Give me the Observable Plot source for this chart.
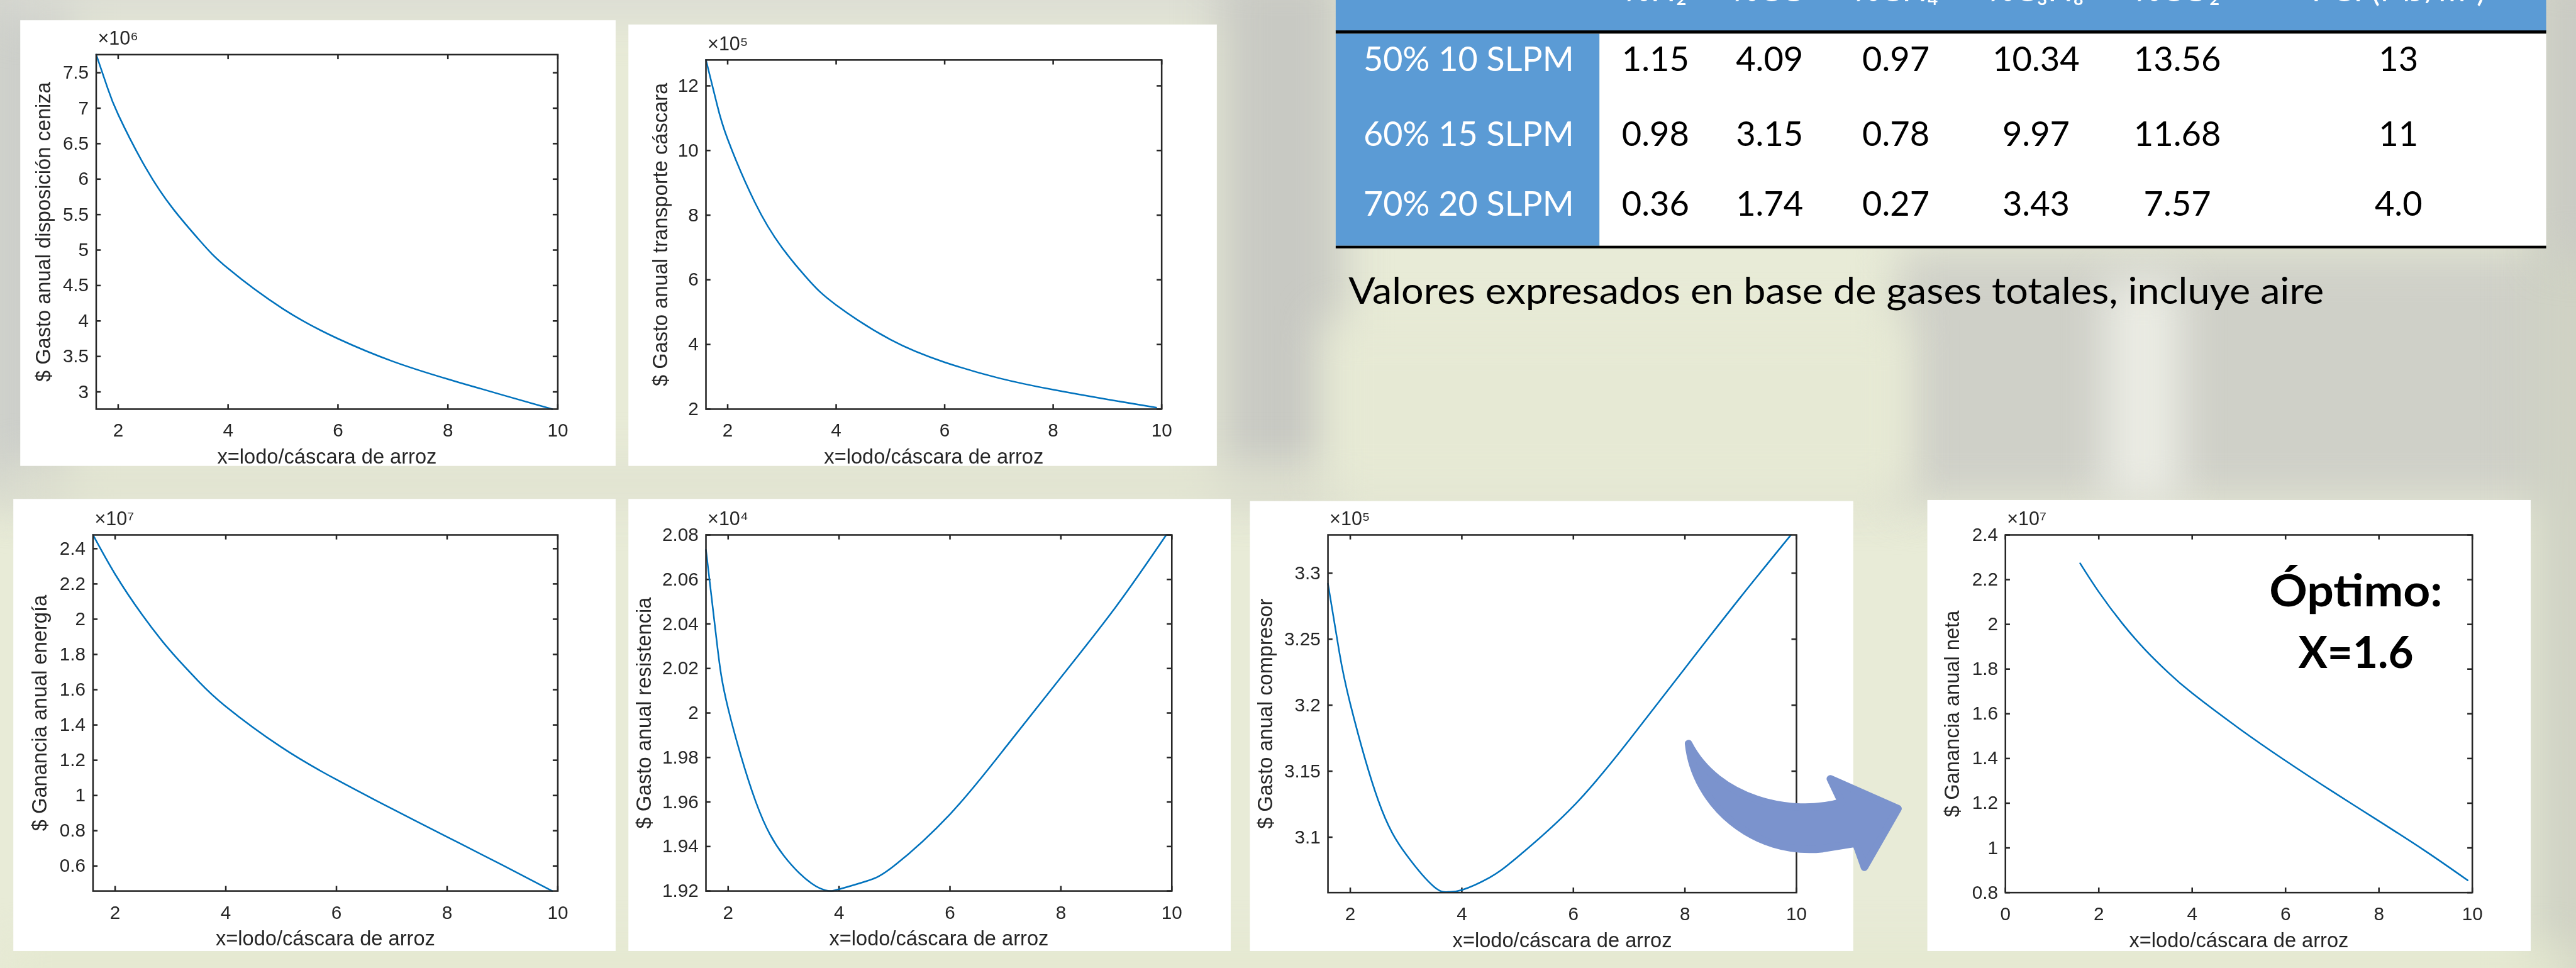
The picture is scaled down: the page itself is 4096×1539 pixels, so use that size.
<!DOCTYPE html>
<html><head><meta charset="utf-8">
<script src="https://cdn.jsdelivr.net/npm/d3@7"></script>
<script src="https://cdn.jsdelivr.net/npm/@observablehq/plot@0.6"></script>
<style>
html,body{margin:0;padding:0;width:4096px;height:1539px;overflow:hidden;background:#e8ebd7;}
#root{position:absolute;left:0;top:0;width:4833px;height:1816px;transform-origin:0 0;overflow:hidden;background:#e8ebd7;}
.blob{position:absolute;filter:blur(40px);}
.panel{position:absolute;}
</style></head><body><div id="root"></div>
<script>
// ---------------- DATA ----------------
const xTitle = "x=lodo/cáscara de arroz";
const xTicks = [2, 4, 6, 8, 10];
const xTicksNeta = [0, 2, 4, 6, 8, 10];

// Gasto anual disposición ceniza (x10^6)
const cenizaX = [1.6, 1.8, 2, 2.5, 3, 3.5, 4, 5, 6, 7, 8, 9, 9.9];
const cenizaY = [7.755, 7.30, 6.91, 6.16, 5.58, 5.12, 4.74, 4.17, 3.75, 3.43, 3.18, 2.955, 2.757];
const cenizaTicks = [3, 3.5, 4, 4.5, 5, 5.5, 6, 6.5, 7, 7.5];

// Gasto anual transporte cáscara (x10^5)
const cascaraX = [1.6, 1.8, 2, 2.5, 3, 3.5, 4, 5, 6, 7, 8, 9, 9.9];
const cascaraY = [12.8, 11.45, 10.35, 8.4, 7.0, 5.98, 5.22, 4.15, 3.45, 2.96, 2.6, 2.3, 2.05];
const cascaraTicks = [2, 4, 6, 8, 10, 12];

// Ganancia anual energía (x10^7)
const energiaX = [1.6, 2, 2.5, 3, 3.5, 4, 5, 6, 7, 8, 9, 9.9];
const energiaY = [2.478, 2.255, 2.02, 1.82, 1.65, 1.505, 1.275, 1.09, 0.925, 0.765, 0.605, 0.458];
const energiaTicks = [0.6, 0.8, 1, 1.2, 1.4, 1.6, 1.8, 2, 2.2, 2.4];

// Gasto anual resistencia (x10^4)
const resistX = [1.6, 1.8, 2, 2.5, 3, 3.5, 3.8, 4, 4.5, 5, 6, 7, 8, 9, 9.9];
const resistY = [2.0733, 2.031, 2.002, 1.960, 1.936, 1.9235, 1.9201, 1.9208, 1.9245, 1.9315, 1.9545, 1.9845, 2.016, 2.048, 2.08];
const resistTicks = [1.92, 1.94, 1.96, 1.98, 2, 2.02, 2.04, 2.06, 2.08];

// Gasto anual compresor (x10^5)
const comprX = [1.6, 1.8, 2, 2.5, 3, 3.5, 3.75, 4, 4.5, 5, 6, 7, 8, 9, 9.9];
const comprY = [3.292, 3.241, 3.201, 3.128, 3.087, 3.0625, 3.0585, 3.0600, 3.0695, 3.0850, 3.1235, 3.1735, 3.2280, 3.2820, 3.329];
const comprTicks = [3.1, 3.15, 3.2, 3.25, 3.3];

// Ganancia anual neta (x10^7)
const netaX = [1.6, 2, 2.5, 3, 3.5, 4, 5, 6, 7, 8, 9, 9.9];
const netaY = [2.273, 2.145, 2.005, 1.885, 1.782, 1.692, 1.535, 1.39, 1.253, 1.12, 0.985, 0.855];
const netaTicks = [0.8, 1, 1.2, 1.4, 1.6, 1.8, 2, 2.2, 2.4];

// Table
const tableHeader = ["%H₂", "%CO", "%CH₄", "%C₃H₈", "%CO₂", "PCI (MJ/m³)"];
const tableRows = ["50% 10 SLPM", "60% 15 SLPM", "70% 20 SLPM"];
const colH2 = ["1.15", "0.98", "0.36"];
const colCO = ["4.09", "3.15", "1.74"];
const colCH4 = ["0.97", "0.78", "0.27"];
const colC3H8 = ["10.34", "9.97", "3.43"];
const colCO2 = ["13.56", "11.68", "7.57"];
const colPCI = ["13", "11", "4.0"];
const caption = "Valores expresados en base de gases totales, incluye aire";
const optimo = ["Óptimo:", "X=1.6"];

// ---------------- LAYOUT ----------------
const root = document.getElementById("root");
root.style.transform = `scale(${4096 / 4833})`;

const blobs = [
  [-60, -60, 190, 1000, "#cdcfca"],
  [0, -50, 2400, 85, "#d9dad3"],
  [2290, -60, 230, 990, "#c8c9c3"],
  [0, 870, 3600, 75, "#dfe1d0"],
  [3560, 470, 1300, 470, "#cfd0c8"],
  [3950, 520, 140, 420, "#ebece4"],
  [4750, -60, 140, 1940, "#cfd2c4"],
  [2480, 600, 1100, 330, "#e6e9d4"],
  [0, 1778, 4833, 80, "#e4e8cf"],
  [4780, -60, 120, 540, "#c9cac4"]
];
for (const [x, y, w, h, c] of blobs) {
  const d = document.createElement("div");
  d.className = "blob";
  Object.assign(d.style, {left: x + "px", top: y + "px", width: w + "px", height: h + "px", background: c});
  root.appendChild(d);
}

const FONT = "'Liberation Sans', Arial, Helvetica, sans-serif";
const ink = "#262626";
const fmt = d => String(+(+d).toFixed(3));

const panels = [
  {box: [38, 38, 1155, 874], frame: [180, 102, 1046, 767], xd: [1.6, 10], yd: [2.757, 7.755], xt: xTicks, yt: cenizaTicks, xs: cenizaX, ys: cenizaY, ylab: "$ Gasto anual disposición ceniza", exp: "×10⁶", ldx: -99},
  {box: [1179, 46, 2283, 874], frame: [1324, 112, 2179, 767], xd: [1.6, 10], yd: [2, 12.8], xt: xTicks, yt: cascaraTicks, xs: cascaraX, ys: cascaraY, ylab: "$ Gasto anual transporte cáscara", exp: "×10⁵", ldx: -85},
  {box: [25, 936, 1155, 1784], frame: [174, 1003, 1046, 1671], xd: [1.6, 10], yd: [0.458, 2.478], xt: xTicks, yt: energiaTicks, xs: energiaX, ys: energiaY, ylab: "$ Ganancia anual energía", exp: "×10⁷", ldx: -99},
  {box: [1179, 936, 2309, 1784], frame: [1324, 1003, 2198, 1671], xd: [1.6, 10], yd: [1.92, 2.08], xt: xTicks, yt: resistTicks, xs: resistX, ys: resistY, ylab: "$ Gasto anual resistencia", exp: "×10⁴", ldx: -116},
  {box: [2345, 940, 3477, 1784], frame: [2491, 1003, 3370, 1674], xd: [1.6, 10], yd: [3.058, 3.329], xt: xTicks, yt: comprTicks, xs: comprX, ys: comprY, ylab: "$ Gasto anual compresor", exp: "×10⁵", ldx: -117},
  {box: [3616, 938, 4748, 1784], frame: [3762, 1003, 4638, 1674], xd: [0, 10], yd: [0.8, 2.4], xt: xTicksNeta, yt: netaTicks, xs: netaX, ys: netaY, ylab: "$ Ganancia anual neta", exp: "×10⁷", ldx: -99}
];

for (const p of panels) {
  const [bx0, by0, bx1, by1] = p.box, [fx0, fy0, fx1, fy1] = p.frame;
  const W = bx1 - bx0, H = by1 - by0;
  const mL = fx0 - bx0, mR = bx1 - fx1, mT = fy0 - by0, mB = by1 - fy1;
  const iw = W - mL - mR, ih = H - mT - mB;
  const tl = 9;
  const kx = tl * (p.xd[1] - p.xd[0]) / iw, ky = tl * (p.yd[1] - p.yd[0]) / ih;
  const data = p.xs.map((x, i) => ({x, y: p.ys[i]}));
  const tickStyle = {stroke: ink, strokeWidth: 3};
  const svg = Plot.plot({
    width: W, height: H,
    marginLeft: mL, marginRight: mR, marginTop: mT, marginBottom: mB,
    x: {domain: p.xd}, y: {domain: p.yd},
    style: {background: "#fff", color: ink, fontFamily: FONT, overflow: "visible"},
    marks: [
      Plot.axisX(p.xt, {tickSize: 0, tickPadding: 27, tickFormat: fmt, fontSize: 35, label: null}),
      Plot.axisY(p.yt, {tickSize: 0, tickPadding: 14, tickFormat: fmt, fontSize: 35, label: null}),
      Plot.ruleX(p.xt, {x: d => d, y1: p.yd[0], y2: p.yd[0] + ky, ...tickStyle}),
      Plot.ruleX(p.xt, {x: d => d, y1: p.yd[1], y2: p.yd[1] - ky, ...tickStyle}),
      Plot.ruleY(p.yt, {y: d => d, x1: p.xd[0], x2: p.xd[0] + kx, ...tickStyle}),
      Plot.ruleY(p.yt, {y: d => d, x1: p.xd[1], x2: p.xd[1] - kx, ...tickStyle}),
      Plot.line(data, {x: "x", y: "y", stroke: "#0072BD", strokeWidth: 3, curve: "natural"}),
      Plot.frame({stroke: ink, strokeWidth: 3}),
      Plot.text([p.ylab], {text: d => d, frameAnchor: "left", dx: p.ldx, rotate: -90, textAnchor: "middle", lineAnchor: "middle", fontSize: 38.5, fill: ink}),
      Plot.text([xTitle], {text: d => d, frameAnchor: "bottom", dy: 90, textAnchor: "middle", lineAnchor: "middle", fontSize: 38.5, fill: ink}),
      Plot.text([p.exp], {text: d => d, frameAnchor: "top-left", dx: 3, dy: -30, textAnchor: "start", lineAnchor: "middle", fontSize: 36, fill: ink})
    ]
  });
  svg.classList.add("panel");
  svg.style.left = bx0 + "px";
  svg.style.top = by0 + "px";
  root.appendChild(svg);
}

// ---------------- OVERLAY: table, caption, arrow, annotation ----------------
const ov = d3.select(root).append("svg")
  .attr("width", 4833).attr("height", 1816)
  .style("position", "absolute").style("left", 0).style("top", 0);

const TF = "Lato, 'Noto Sans', sans-serif";
const blue = "#5b9bd5";
const tx0 = 2506, tx1 = 4777, labR = 3001;
ov.append("rect").attr("x", tx0).attr("y", 0).attr("width", tx1 - tx0).attr("height", 58).attr("fill", blue);
ov.append("rect").attr("x", tx0).attr("y", 63).attr("width", labR - tx0).attr("height", 398).attr("fill", blue);
ov.append("rect").attr("x", labR).attr("y", 63).attr("width", tx1 - labR).attr("height", 398).attr("fill", "#fff");
ov.append("rect").attr("x", tx0).attr("y", 57).attr("width", tx1 - tx0).attr("height", 6).attr("fill", "#000");
ov.append("rect").attr("x", tx0).attr("y", 461).attr("width", tx1 - tx0).attr("height", 5).attr("fill", "#000");

const colX = [3106, 3320, 3557, 3820, 4085, 4500];
const rowBase = [133, 274, 405];
const cols = [colH2, colCO, colCH4, colC3H8, colCO2, colPCI];

ov.append("g").selectAll("text").data(tableHeader).join("text")
  .attr("x", (d, i) => colX[i]).attr("y", 2)
  .attr("text-anchor", "middle").attr("font-family", TF).attr("font-size", 62).attr("fill", "#fff")
  .text(d => d);

ov.append("g").selectAll("text").data(tableRows).join("text")
  .attr("x", 2558).attr("y", (d, i) => rowBase[i])
  .attr("textLength", 395).attr("lengthAdjust", "spacingAndGlyphs")
  .attr("font-family", TF).attr("font-size", 64).attr("fill", "#fff")
  .text(d => d);

cols.forEach((col, ci) => {
  ov.append("g").selectAll("text").data(col).join("text")
    .attr("x", colX[ci]).attr("y", (d, i) => rowBase[i])
    .attr("text-anchor", "middle").attr("font-family", TF).attr("font-size", 64).attr("fill", "#000")
    .text(d => d);
});

ov.append("text").attr("x", 2530).attr("y", 570)
  .attr("textLength", 1830).attr("lengthAdjust", "spacingAndGlyphs")
  .attr("font-family", TF).attr("font-size", 68).attr("fill", "#000")
  .text(caption);

// curved arrow
ov.append("path")
  .attr("d", "M3168,1395 C3180,1510 3290,1606 3420,1592 L3482,1582 L3498,1627 L3561,1517 L3434,1461 L3455,1505 C3360,1532 3222,1500 3168,1395 Z")
  .attr("fill", "#7b93cd").attr("stroke", "#7b93cd").attr("stroke-width", 14).attr("stroke-linejoin", "round");

// Óptimo annotation
const optW = [325, 216], optB = [1137, 1253];
ov.append("g").selectAll("text").data(optimo).join("text")
  .attr("x", 4420).attr("y", (d, i) => optB[i])
  .attr("text-anchor", "middle").attr("textLength", (d, i) => optW[i]).attr("lengthAdjust", "spacingAndGlyphs")
  .attr("font-family", TF).attr("font-weight", 700).attr("font-size", 84).attr("fill", "#000")
  .text(d => d);
</script></body></html>
